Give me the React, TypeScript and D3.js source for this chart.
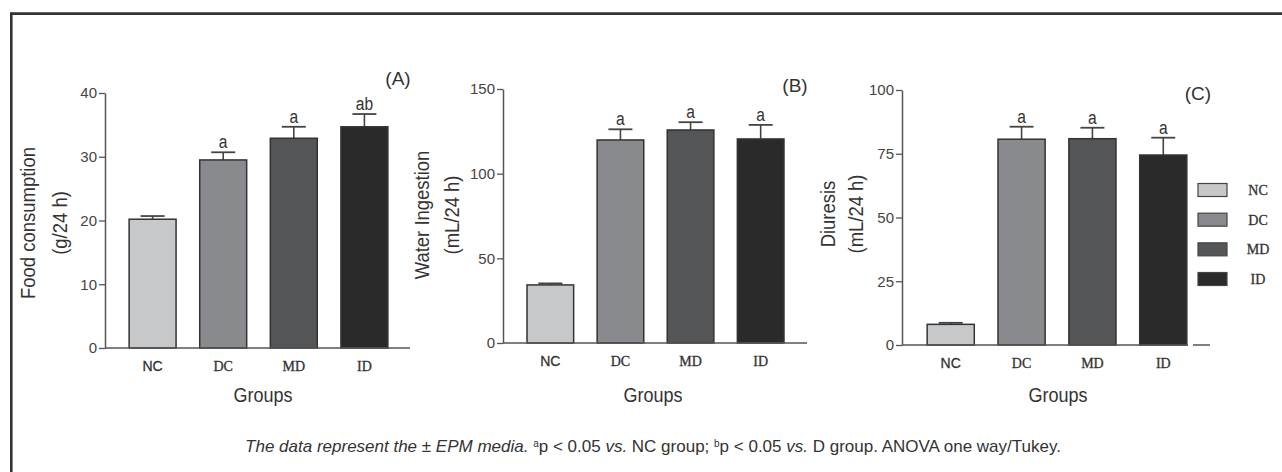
import React, { useEffect, useRef } from "react";
import * as d3 from "d3";

const groups = ["NC", "DC", "MD", "ID"];
const groupColors = ["#c7c8ca", "#898a8d", "#545557", "#2b2a2b"];

const foodMean = [20.2, 29.5, 32.9, 34.7];
const foodErr = [0.5, 1.2, 1.8, 2.0];
const foodSig = ["", "a", "a", "ab"];
const foodTicks = [0, 10, 20, 30, 40];

const waterMean = [34.3, 119.9, 125.8, 120.5];
const waterErr = [0.9, 6.3, 4.6, 8.3];
const waterSig = ["", "a", "a", "a"];
const waterTicks = [0, 50, 100, 150];

const diuresisMean = [8.1, 80.7, 80.9, 74.5];
const diuresisErr = [0.6, 4.9, 4.3, 6.8];
const diuresisSig = ["", "a", "a", "a"];
const diuresisTicks = [0, 25, 50, 75, 100];

const narrow = "'Liberation Sans Narrow', 'Arial Narrow', 'Liberation Sans', sans-serif";
const serif = "'Liberation Serif', 'DejaVu Serif', serif";
const sans = "'Liberation Sans', Arial, sans-serif";

// layout of the three panels
const panels = [
  {
    mean: foodMean, err: foodErr, sig: foodSig, ticks: foodTicks, max: 40,
    axisX: 105, axisEnd: 410, band: [115, 402], base: 348, top: 93,
    title: ["Food consumption", "(g/24 h)"], titleX: [28, 60], titleY: 223,
    label: "(A)", labelX: 398, labelY: 78, groupsX: 263,
  },
  {
    mean: waterMean, err: waterErr, sig: waterSig, ticks: waterTicks, max: 150,
    axisX: 503, axisEnd: 807, band: [513, 798], base: 343, top: 89,
    title: ["Water Ingestion", "(mL/24 h)"], titleX: [422, 452], titleY: 215,
    label: "(B)", labelX: 795, labelY: 85, groupsX: 653,
  },
  {
    mean: diuresisMean, err: diuresisErr, sig: diuresisSig, ticks: diuresisTicks, max: 100,
    axisX: 902, axisEnd: 1210, band: [913, 1201], base: 345, top: 90,
    title: ["Diuresis", "(mL/24 h)"], titleX: [828, 856], titleY: 214,
    label: "(C)", labelX: 1198, labelY: 93, groupsX: 1058,
  },
];

export default function App() {
  const svgRef = useRef(null);

  useEffect(() => {
    const svg = d3.select(svgRef.current);
    svg.selectAll("*").remove();

    // frame
    svg.append("line").attr("x1", 11.3).attr("x2", 1282).attr("y1", 13.6).attr("y2", 13.6)
      .attr("stroke", "#333").attr("stroke-width", 2.6);
    svg.append("line").attr("x1", 11.3).attr("x2", 11.3).attr("y1", 12.3).attr("y2", 472)
      .attr("stroke", "#333").attr("stroke-width", 2.6);

    panels.forEach((p) => {
      const x = d3.scaleBand().domain(groups).range(p.band).paddingInner(0.335).paddingOuter(0.2);
      const y = d3.scaleLinear().domain([0, p.max]).range([p.base, p.top]);
      const g = svg.append("g");
      const cx = (i) => x(groups[i]) + x.bandwidth() / 2;

      // error bars (behind bars)
      const eb = g.selectAll("g.err").data(p.mean).join("g");
      eb.append("line")
        .attr("x1", (d, i) => cx(i)).attr("x2", (d, i) => cx(i))
        .attr("y1", (d) => y(d)).attr("y2", (d, i) => y(d + p.err[i]))
        .attr("stroke", "#444").attr("stroke-width", 1.6);
      eb.append("line")
        .attr("x1", (d, i) => cx(i) - 12).attr("x2", (d, i) => cx(i) + 12)
        .attr("y1", (d, i) => y(d + p.err[i])).attr("y2", (d, i) => y(d + p.err[i]))
        .attr("stroke", "#444").attr("stroke-width", 1.8);

      g.selectAll("rect.bar").data(p.mean).join("rect")
        .attr("x", (d, i) => x(groups[i]))
        .attr("y", (d) => y(d))
        .attr("width", x.bandwidth())
        .attr("height", (d) => p.base - y(d))
        .attr("fill", (d, i) => groupColors[i])
        .attr("stroke", "#333").attr("stroke-width", 1.5);

      g.selectAll("text.sig").data(p.sig).join("text")
        .attr("transform", (d, i) => `translate(${cx(i)},${y(p.mean[i] + p.err[i]) - 4}) scale(0.82,1)`)
        .attr("text-anchor", "middle")
        .attr("font-family", narrow).attr("font-size", 19).attr("fill", "#333")
        .text((d) => d);

      // y axis
      const ya = g.append("g").attr("transform", `translate(${p.axisX},0)`)
        .call(d3.axisLeft(y).tickValues(p.ticks).tickSize(6).tickSizeOuter(0).tickPadding(2).tickFormat(d3.format("d")));
      ya.select(".domain").attr("stroke", "#555").attr("stroke-width", 1.5);
      ya.selectAll(".tick line").attr("stroke", "#555").attr("stroke-width", 1.3);
      ya.selectAll(".tick text").attr("font-family", narrow).attr("font-size", 15).attr("fill", "#444");

      // x axis
      const xa = g.append("g").attr("transform", `translate(0,${p.base})`)
        .call(d3.axisBottom(x).tickSize(0).tickPadding(13));
      xa.select(".domain").remove();
      xa.selectAll(".tick text")
        .attr("font-family", (d) => (d === "NC" ? sans : serif))
        .attr("font-size", 14).attr("fill", "#333")
        .attr("stroke", "#333").attr("stroke-width", 0.3);
      g.append("line").attr("x1", p.axisX).attr("x2", p.axisEnd).attr("y1", p.base).attr("y2", p.base)
        .attr("stroke", "#555").attr("stroke-width", 1.5);

      // titles
      p.title.forEach((t, k) => {
        g.append("text")
          .attr("transform", `translate(${p.titleX[k]},${p.titleY}) rotate(-90) scale(0.88,1)`)
          .attr("text-anchor", "middle").attr("dy", "0.35em")
          .attr("font-family", narrow).attr("font-size", 21).attr("fill", "#333")
          .text(t);
      });
      g.append("text").attr("transform", `translate(${p.groupsX},395) scale(0.9,1)`).attr("dy", "0.35em")
        .attr("text-anchor", "middle").attr("font-family", narrow).attr("font-size", 20).attr("fill", "#333")
        .text("Groups");
      g.append("text").attr("x", p.labelX).attr("y", p.labelY).attr("dy", "0.35em")
        .attr("text-anchor", "middle").attr("font-family", narrow).attr("font-size", 19).attr("fill", "#333")
        .text(p.label);
    });

    // gap in the third x axis under the legend edge
    svg.append("line").attr("x1", 1188).attr("x2", 1193).attr("y1", 345).attr("y2", 345)
      .attr("stroke", "#fff").attr("stroke-width", 3);

    // legend
    const lg = svg.append("g");
    const ly = d3.scalePoint().domain(groups).range([190, 279]);
    lg.selectAll("rect").data(groups).join("rect")
      .attr("x", 1198).attr("y", (d) => ly(d) - 6.5).attr("width", 29).attr("height", 13)
      .attr("fill", (d, i) => groupColors[i]).attr("stroke", "#444").attr("stroke-width", 1.2);
    lg.selectAll("text").data(groups).join("text")
      .attr("x", 1258).attr("y", (d) => ly(d)).attr("dy", "0.35em").attr("text-anchor", "middle")
      .attr("font-family", serif).attr("font-size", 14).attr("fill", "#333")
      .attr("stroke", "#333").attr("stroke-width", 0.3)
      .text((d) => d);

    // caption
    const cap = svg.append("text").attr("x", 653).attr("y", 446).attr("dy", "0.35em")
      .attr("text-anchor", "middle").attr("font-family", narrow).attr("font-size", 17).attr("fill", "#333");
    const parts = [
      ["The data represent the \u00b1 EPM media. ", "italic", false],
      ["a", "normal", true],
      ["p < 0.05 ", "normal", false],
      ["vs.", "italic", false],
      [" NC group; ", "normal", false],
      ["b", "normal", true],
      ["p < 0.05 ", "normal", false],
      ["vs.", "italic", false],
      [" D group. ANOVA one way/Tukey.", "normal", false],
    ];
    parts.forEach(([t, style, sup]) => {
      cap.append("tspan")
        .attr("font-style", style)
        .attr("font-size", sup ? 10 : 17)
        .attr("baseline-shift", sup ? "super" : null)
        .text(t);
    });
  }, []);

  return (
    <svg
      ref={svgRef}
      width={1282}
      height={472}
      style={{ position: "absolute", left: 0, top: 0, background: "#fff" }}
    />
  );
}
